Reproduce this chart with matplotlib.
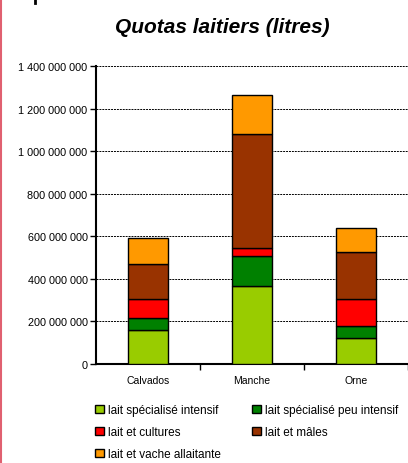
import numpy as np
import matplotlib.pyplot as plt
from matplotlib.lines import Line2D
from matplotlib.patches import Patch

plt.rcParams['font.family'] = ['Liberation Sans', 'DejaVu Sans']

# data (litres)
departements = ['Calvados', 'Manche', 'Orne']
series_names = ['lait spécialisé intensif', 'lait spécialisé peu intensif',
                'lait et cultures', 'lait et mâles', 'lait et vache allaitante']
intensif = [162e6, 365e6, 124e6]
peu_intensif = [53e6, 143e6, 53e6]
cultures = [91e6, 38e6, 129e6]
males = [164e6, 536e6, 218e6]
allaitante = [121e6, 182e6, 113e6]
colors = ['#99CC00', '#008000', '#FF0000', '#993300', '#FF9900']

fig = plt.figure(figsize=(4.08, 4.64), dpi=100)
ax = fig.add_axes([0.235, 0.2134, 0.765, 0.6422])

x = np.arange(len(departements))
bottom = np.zeros(len(departements))
handles = []
for vals, name, col in zip([intensif, peu_intensif, cultures, males, allaitante], series_names, colors):
    ax.bar(x, vals, width=0.39, bottom=bottom, color=col, edgecolor='black', linewidth=1, zorder=3)
    bottom += np.array(vals)
    handles.append(Patch(facecolor=col, edgecolor='black', linewidth=1, label=name))

ax.set_xlim(-0.5, 2.5)
ax.set_ylim(0, 1.4e9)
yt = np.arange(0, 1.41e9, 2e8)
ax.set_yticks(yt)
ax.set_yticklabels(['{:,}'.format(int(v)).replace(',', ' ') for v in yt])
ax.yaxis.grid(True, color='black', linestyle=(0, (2, 1)), linewidth=0.7, zorder=0)
ax.set_axisbelow(True)

ax.set_xticks([0.5, 1.5, 2.5])
ax.set_xticklabels([])
ax.set_xticks(x, minor=True)
ax.set_xticklabels(departements, minor=True)
ax.tick_params(axis='x', which='minor', length=0, labelsize=7.5, pad=8)
ax.tick_params(axis='x', which='major', length=4, width=1, direction='out')
ax.tick_params(axis='y', length=4, width=1, labelsize=7.8, pad=2)

for s in ['top', 'right']:
    ax.spines[s].set_visible(False)
ax.spines['left'].set_linewidth(1.5)
ax.spines['bottom'].set_linewidth(1.5)

fig.text(0.544, 0.941, 'Quotas laitiers (litres)', ha='center', va='center',
         fontsize=15, fontweight='bold', fontstyle='italic')

order = [0, 2, 4, 1, 3]
fig.legend([handles[i] for i in order], [series_names[i] for i in order],
           ncol=2, loc='upper left', bbox_to_anchor=(0.232, 0.127), frameon=False,
           fontsize=8.5, handlelength=0.75, handleheight=0.65, handletextpad=0.4,
           columnspacing=2.6, labelspacing=0.85, borderaxespad=0, borderpad=0)

# bordure rouge à gauche et fragment de texte en haut
fig.add_artist(Line2D([0.002, 0.002], [0, 1], transform=fig.transFigure, color='#e06070', linewidth=1.5))
fig.add_artist(Line2D([0.086, 0.086], [0.992, 1], transform=fig.transFigure, color='black', linewidth=2))

fig.savefig('out.png', dpi=100)
